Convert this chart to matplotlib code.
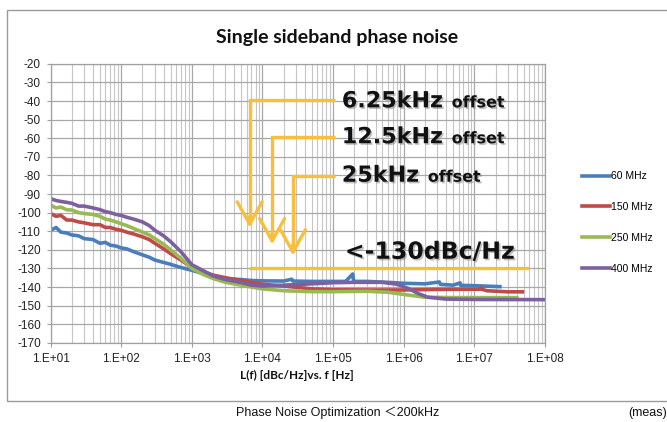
import numpy as np
import matplotlib
matplotlib.use("Agg")
import matplotlib.pyplot as plt
import matplotlib.patches as patches
import matplotlib.patheffects as pe
from matplotlib.ticker import LogLocator, FixedLocator, NullFormatter

plt.rcParams["axes.unicode_minus"] = False

# ---------------- data ----------------
f_60 = [10, 12, 14, 17, 20, 25, 30, 40, 50, 60, 70, 85, 100, 120, 150, 200, 250, 300,
        400, 500, 700, 1000, 1500, 2000, 3000, 5000, 7000, 1e4, 2e4, 2.6e4, 2.7e4, 5e4,
        1.5e5, 1.9e5, 1.95e5, 2e5, 3e5, 6e5, 1e6, 2e6, 3.2e6, 3.3e6, 5e6, 6.3e6, 6.4e6,
        1e7, 2.3e7]
pn_60 = [-109.5, -108, -110.5, -111, -112, -112.5, -114, -114.5, -116.5, -116, -117.5,
         -118, -119, -119.5, -121, -122.7, -124, -125.5, -126.8, -127.8, -129.5, -131,
         -133, -134.5, -135.5, -136, -136.5, -136.7, -136.8, -135.8, -136.8, -137,
         -137, -133, -136.8, -137, -137, -137.5, -138, -138.3, -137.3, -138.6, -139,
         -137.8, -139.1, -139.3, -139.8]

f_150 = [10, 12, 14, 17, 20, 25, 30, 40, 50, 60, 70, 85, 100, 120, 150, 200, 250, 300,
         400, 500, 700, 1000, 1500, 2000, 3000, 5000, 7000, 1e4, 2e4, 5e4, 1e5, 3e5,
         1e6, 3e6, 1.2e7, 1.26e7, 1.3e7, 1.5e7, 3e7, 4.8e7]
pn_150 = [-100.5, -102, -101.5, -104, -104, -105, -105.5, -106.5, -106.5, -108, -108,
          -109, -109.5, -110.5, -111.5, -113, -114.5, -116.5, -119.5, -122, -125.5,
          -129.5, -132, -133.6, -135, -136.5, -137.5, -138.5, -139.5, -141, -141.5,
          -141.6, -141.6, -141.3, -141.2, -140.5, -141.3, -142, -142.6, -142.6]

f_250 = [10, 12, 14, 17, 20, 25, 30, 40, 50, 60, 70, 85, 100, 120, 150, 200, 250, 300,
         400, 500, 700, 1000, 1500, 2000, 3000, 5000, 7000, 1e4, 2e4, 5e4, 1e5, 3e5,
         6e5, 1e6, 2e6, 5e6, 1e7, 4e7]
pn_250 = [-96, -97.5, -97, -98.5, -98.6, -100, -100.5, -101, -102, -103.5, -104, -105,
          -106, -107, -108.5, -110.5, -112, -114, -117, -120, -124.6, -130, -133.5,
          -135.4, -137.5, -139, -140, -141, -142, -142.5, -142.5, -142.3, -142.8, -144,
          -145.5, -145.7, -145.7, -145.7]

f_400 = [10, 12, 14, 17, 20, 25, 30, 40, 50, 60, 70, 85, 100, 120, 150, 200, 250, 300,
         400, 500, 700, 1000, 1500, 2000, 3000, 5000, 7000, 1e4, 2e4, 5e4, 1e5, 2e5,
         5e5, 8e5, 1.2e6, 1.6e6, 2.2e6, 4e6, 1e7, 1e8]
pn_400 = [-92.5, -93.5, -94, -94.5, -95, -96.5, -96.5, -97.5, -98.4, -99.5, -100, -101,
          -101.5, -102.5, -103.5, -105, -107, -109.5, -112.5, -115.6, -121, -128,
          -131.5, -134, -136, -137.6, -139, -139.5, -139, -138.3, -137.7, -137.5,
          -137.5, -138.5, -141, -143.5, -145.5, -146.5, -146.7, -146.8]

series = [("60 MHz", f_60, pn_60, "#4A7EBB"),
          ("150 MHz", f_150, pn_150, "#BE4B48"),
          ("250 MHz", f_250, pn_250, "#98B954"),
          ("400 MHz", f_400, pn_400, "#7D60A0")]

y_ticks = list(range(-20, -171, -10))
x_decades = [1e1, 1e2, 1e3, 1e4, 1e5, 1e6, 1e7, 1e8]
x_labels = ["1.E+01", "1.E+02", "1.E+03", "1.E+04", "1.E+05", "1.E+06", "1.E+07", "1.E+08"]

# annotation brackets: (label, vertical freq, top level, arrow tip, text baseline)
brackets = [("6.25kHz", 6.6e3, -39.5, -108, -43.4),
            ("12.5kHz", 1.37e4, -59.2, -117, -62.7),
            ("25kHz", 2.7e4, -80.2, -123, -83.4)]
bracket_end = 1.05e5
limit_level = -130
limit_span = [6.5e3, 6.0e7]

ORANGE = "#F9BF3B"

# ---------------- figure ----------------
W, H = 667, 422
fig = plt.figure(figsize=(W / 100, H / 100), dpi=100)

# chart frame
frame = patches.Rectangle((7 / W, 1 - 401 / H), 1.2, 391 / H, transform=fig.transFigure,
                          fill=False, edgecolor="#9A9A9A", lw=1.0, clip_on=False)
fig.patches.append(frame)

ax = fig.add_axes([50.5 / W, 1 - 342.8 / H, 494.5 / W, 279 / H])
ax.set_xscale("log")
ax.set_xlim(1e1, 1e8)
ax.set_ylim(-170, -20)

for name, f, pn, c in series:
    ax.plot(f, pn, color=c, lw=2.6, label=name, solid_joinstyle="round")

ax.xaxis.set_major_locator(FixedLocator(x_decades))
ax.set_xticklabels(x_labels)
ax.xaxis.set_minor_locator(LogLocator(base=10, subs=np.arange(2, 10), numticks=20))
ax.xaxis.set_minor_formatter(NullFormatter())
ax.set_yticks(y_ticks)

ax.grid(which="major", color="#A8A8A8", lw=0.9)
ax.grid(which="minor", axis="x", color="#C6C6C6", lw=0.8)
ax.set_axisbelow(True)
for s in ax.spines.values():
    s.set_color("#A0A0A0")
    s.set_linewidth(0.9)
ax.tick_params(which="major", length=3, color="#A0A0A0", labelsize=8.5,
               labelcolor="#222222", pad=4)
ax.tick_params(which="minor", length=0)
for lab in ax.get_xticklabels() + ax.get_yticklabels():
    lab.set_family("Liberation Sans")

# orange annotations
for label, fv, top, tip, base in brackets:
    ax.plot([bracket_end, fv, fv], [top, top, tip + 2], color=ORANGE, lw=2.4,
            solid_joinstyle="miter", solid_capstyle="butt", zorder=5)
    ax.annotate("", xy=(fv, tip), xytext=(fv, tip + 6),
                arrowprops=dict(arrowstyle="->,head_length=1.6,head_width=0.9",
                                color=ORANGE, lw=2.4, shrinkA=0, shrinkB=0), zorder=5)
ax.plot(limit_span, [limit_level, limit_level], color=ORANGE, lw=2.4,
        solid_capstyle="butt", zorder=5)

shadow = [pe.withSimplePatchShadow(offset=(1.2, -1.2), shadow_rgbFace="#777777",
                                   alpha=0.45)]
fig.canvas.draw()
renderer = fig.canvas.get_renderer()
for label, fv, top, tip, base in brackets:
    t = ax.text(1.33e5, base, label, fontsize=16, fontweight="bold",
                family="DejaVu Sans", va="baseline", ha="left", color="#111111",
                path_effects=shadow, zorder=6)
    bb = t.get_window_extent(renderer)
    xpos = ax.transData.inverted().transform((bb.x1 + 9, 0))[0]
    ax.text(xpos, base, "offset", fontsize=11.5, fontweight="bold",
            family="DejaVu Sans", va="baseline", ha="left", color="#111111",
            path_effects=shadow, zorder=6)

ax.text(1.47e5, -124.8, "<-130dBc/Hz", fontsize=17, fontweight="bold",
        family="DejaVu Sans", va="baseline", ha="left", color="#111111",
        path_effects=shadow, zorder=6)

# legend
fig.legend(loc="center left", bbox_to_anchor=(582 / W, 1 - 222.5 / H), frameon=False,
           labelspacing=2.0, handlelength=2.7, handletextpad=0.1,
           borderpad=0, borderaxespad=0, prop={"family": "Liberation Sans", "size": 7.5})

# titles and captions
fig.text(337 / W, 1 - 38 / H, "Single sideband phase noise", fontsize=14,
         fontweight="bold", family="Lato", ha="center", va="center", color="#111111")
fig.text(297 / W, 1 - 375.5 / H, "L(f) [dBc/Hz]vs. f [Hz]", fontsize=8.5,
         fontweight="bold", family="Lato", ha="center", va="center", color="#111111")
fig.text(338 / W, 1 - 413 / H, "Phase Noise Optimization \uff1c200kHz", fontsize=9,
         family=["Liberation Sans", "Noto Sans CJK JP"], ha="center", va="center",
         color="#111111")
fig.text(628 / W, 1 - 413 / H, "(meas)", fontsize=9, family="Liberation Sans",
         ha="left", va="center", color="#111111")

fig.savefig("out.png", dpi=100)
